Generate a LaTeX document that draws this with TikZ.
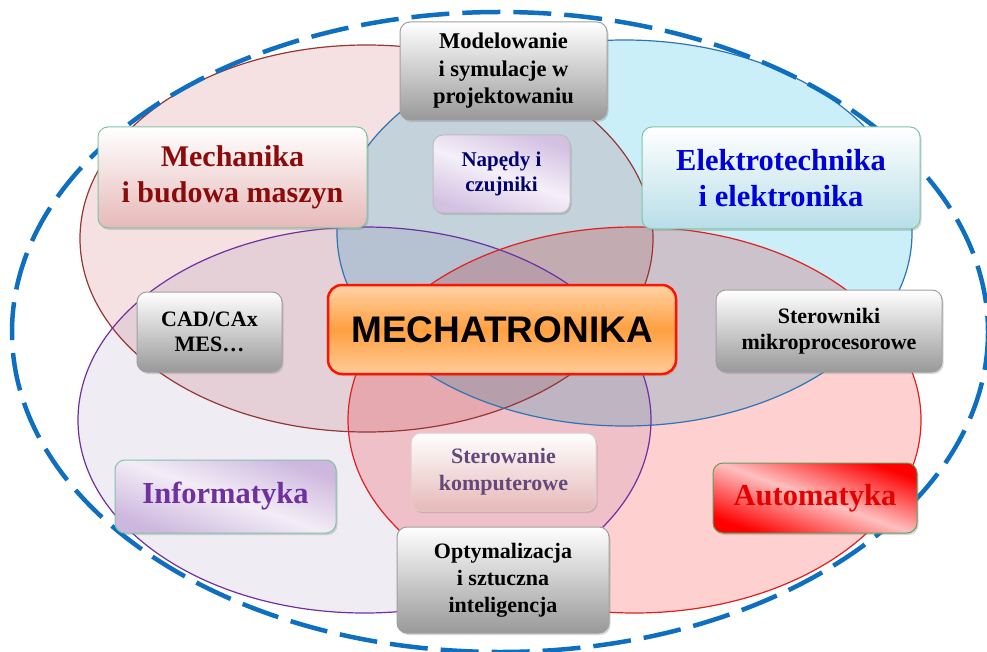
\documentclass[tikz,border=0pt]{standalone}
\usepackage{fontspec}
\setmainfont{Liberation Serif}
\newfontfamily\arialfont{Liberation Sans}
\usetikzlibrary{shadows}

\definecolor{mechfill}{HTML}{F5E1E1}
\definecolor{elekfill}{HTML}{CBEFF9}
\definecolor{infofill}{HTML}{EFECF4}
\definecolor{autofill}{HTML}{FFD0D0}
\definecolor{mechline}{HTML}{953735}
\definecolor{elekline}{HTML}{2E75B6}
\definecolor{infoline}{HTML}{7030A0}
\definecolor{autoline}{HTML}{E02020}
\definecolor{dashblue}{HTML}{0E6FC0}
\definecolor{greenline}{HTML}{80C4A6}
\definecolor{grayline}{HTML}{A0A0A0}
\definecolor{mechbottom}{HTML}{E6B9B8}
\definecolor{elekbottom}{HTML}{B7DEE8}
\definecolor{mechtext}{HTML}{8C0A0A}

\tikzset{
  box/.style={rounded corners=10pt, draw=grayline, line width=1pt, align=center,
    font=\bfseries, inner sep=0pt,
    drop shadow={shadow xshift=1.5pt, shadow yshift=-2pt, opacity=0.3}},
  graybox/.style={box, top color=white, bottom color=black!40},
  diagbox/.style={box, top color=#1, bottom color=#1, middle color=white!75!#1, shading angle=-20},
}

\begin{document}
\begin{tikzpicture}[x=1pt, y=-1pt]
    \useasboundingbox (0,0) rectangle (987,652);

    % Elipsy dziedzin
    \begin{scope}[blend group=multiply]
        \fill[mechfill] (366.5,238.5) ellipse [x radius=286.5, y radius=193.5];
        \fill[elekfill] (624.5,233) ellipse [x radius=287.5, y radius=193];
        \fill[infofill] (364.5,420) ellipse [x radius=286.5, y radius=193];
        \fill[autofill] (634.5,420) ellipse [x radius=286.5, y radius=193];
    \end{scope}
    \draw[mechline, line width=1.2pt] (366.5,238.5) ellipse [x radius=286.5, y radius=193.5];
    \draw[elekline, line width=1.2pt] (624.5,233) ellipse [x radius=287.5, y radius=193];
    \draw[infoline, line width=1.2pt] (364.5,420) ellipse [x radius=286.5, y radius=193];
    \draw[autoline, line width=1.2pt] (634.5,420) ellipse [x radius=286.5, y radius=193];

    % Obwiednia
    \draw[dashblue, line width=4.5pt, dash pattern=on 38pt off 13pt] (500,332) ellipse [x radius=488, y radius=320];

    % Dziedziny
    \node[box, draw=greenline, top color=white, bottom color=mechbottom, minimum width=269pt, minimum height=101pt,
        font=\bfseries\fontsize{30}{36}\selectfont, text=mechtext] (mech) at (232.5,177.5) {Mechanika\\i budowa maszyn};
    \node[box, draw=greenline, top color=white, bottom color=elekbottom, minimum width=278pt, minimum height=102pt,
        font=\bfseries\fontsize{30.5}{36}\selectfont, text=blue!85!black] (elek) at (781,178) {Elektrotechnika\\i elektronika};
    \node[diagbox=infoline!35, draw=greenline, minimum width=221pt, minimum height=73pt,
        font=\bfseries\fontsize{30.5}{36}\selectfont, text=infoline] (info) at (225.5,496.5) {Informatyka};
    \node[diagbox=red, draw=green!25!gray, minimum width=204pt, minimum height=70pt,
        font=\bfseries\fontsize{30.5}{36}\selectfont, text=red!90!black] (auto) at (815,498) {Automatyka};

    % Obszary wspolne
    \node[graybox, minimum width=207pt, minimum height=98pt, font=\bfseries\fontsize{22.5}{27.5}\selectfont]
        (model) at (503.5,71) {Modelowanie\\i symulacje w\\projektowaniu};
    \node[diagbox=infoline!30, minimum width=137pt, minimum height=78pt, draw=grayline!70,
        font=\bfseries\fontsize{21}{25}\selectfont, text=blue!45!black] (naped) at (501.5,174) {Napędy i\\czujniki};
    \node[graybox, minimum width=145pt, minimum height=80pt, font=\bfseries\fontsize{22}{25}\selectfont]
        (cad) at (209.5,332) {CAD/CAx\\MES…};
    \node[graybox, minimum width=226pt, minimum height=82pt, font=\bfseries\fontsize{22}{26}\selectfont]
        (sterown) at (829,331) {Sterowniki\\mikroprocesorowe};
    \node[box, top color=white, bottom color=mechbottom, draw=mechline!25, minimum width=185pt, minimum height=78pt,
        font=\bfseries\fontsize{22}{27}\selectfont, text=infoline!55!black!80] (sterow) at (503.5,472) {Sterowanie\\komputerowe};
    \node[graybox, minimum width=212pt, minimum height=106pt, font=\bfseries\fontsize{22}{27}\selectfont]
        (optym) at (503,580) {Optymalizacja\\i sztuczna\\inteligencja};

    % Centrum
    \node[box, rounded corners=14pt, draw=red!85!orange, line width=2.5pt,
        top color=orange!35!white, bottom color=orange!40!white, middle color=orange!75!white,
        minimum width=348pt, minimum height=89pt, font=\arialfont\bfseries\fontsize{37}{42}\selectfont]
        (mecha) at (502,329.5) {MECHATRONIKA};
\end{tikzpicture}
\end{document}
